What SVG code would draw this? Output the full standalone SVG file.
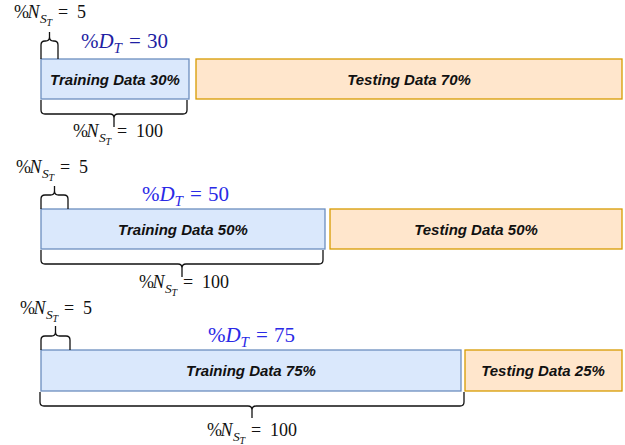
<svg xmlns="http://www.w3.org/2000/svg" width="625" height="445" viewBox="0 0 625 445">
<style>
.train{fill:#dae8fc;stroke:#6c8ebf;stroke-width:1.3}
.test{fill:#ffe6cc;stroke:#d79b00;stroke-width:1.3}
.lbl{font-family:"Liberation Sans",Arial,sans-serif;font-weight:bold;font-style:italic;font-size:15px;fill:#111;text-anchor:middle}
.brace{fill:none;stroke:#111;stroke-width:1.3}
.m{font-family:"Liberation Serif","Times New Roman",serif;fill:#111;font-size:18px}
.i{font-style:italic}
.s{font-size:13.5px;font-style:italic}
.ss{font-size:10px;font-style:italic}
.d{font-family:"Liberation Serif","Times New Roman",serif;font-size:21px}
.ds{font-size:15px;font-style:italic}
.d1{fill:#1f1fa3}
.d2{fill:#2a2ae6}
</style>

<g id="row1">
  <g id="train1"><rect class="train" x="41" y="59" width="148" height="40"/><text class="lbl" x="115" y="84.5">Training Data 30%</text></g>
  <g id="test1"><rect class="test" x="196" y="59" width="426" height="40"/><text class="lbl" x="409" y="84.5">Testing Data 70%</text></g>
  <g id="ns1"><text class="m" y="18"><tspan x="14">%</tspan><tspan class="i" x="27.5">N</tspan><tspan class="s" x="40" y="22.5">S</tspan><tspan class="ss" x="46.5" y="26">T</tspan><tspan x="58" y="18">=</tspan><tspan x="77" y="18">5</tspan></text></g>
  <g id="dt1"><text class="d d1" y="48"><tspan x="81">%</tspan><tspan class="i" x="98.5">D</tspan><tspan class="ds" x="113.5" y="53">T</tspan><tspan x="129" y="48">=</tspan><tspan x="147" y="48">30</tspan></text></g>
  <g id="nb1"><text class="m" y="137"><tspan x="73">%</tspan><tspan class="i" x="86.5">N</tspan><tspan class="s" x="99" y="141.5">S</tspan><tspan class="ss" x="105.5" y="145">T</tspan><tspan x="117" y="137">=</tspan><tspan x="136" y="137">100</tspan></text></g>
</g>

<g id="row2">
  <g id="train2"><rect class="train" x="41" y="209" width="284" height="40"/><text class="lbl" x="183" y="234.5">Training Data 50%</text></g>
  <g id="test2"><rect class="test" x="330" y="209" width="292" height="40"/><text class="lbl" x="476" y="234.5">Testing Data 50%</text></g>
  <g id="ns2"><text class="m" y="173"><tspan x="16">%</tspan><tspan class="i" x="29.5">N</tspan><tspan class="s" x="42" y="177.5">S</tspan><tspan class="ss" x="48.5" y="181">T</tspan><tspan x="60" y="173">=</tspan><tspan x="79" y="173">5</tspan></text></g>
  <g id="dt2"><text class="d d2" y="201"><tspan x="142">%</tspan><tspan class="i" x="159.5">D</tspan><tspan class="ds" x="174.5" y="206">T</tspan><tspan x="190" y="201">=</tspan><tspan x="208" y="201">50</tspan></text></g>
  <g id="nb2"><text class="m" y="288"><tspan x="139">%</tspan><tspan class="i" x="152.5">N</tspan><tspan class="s" x="165" y="292.5">S</tspan><tspan class="ss" x="171.5" y="296">T</tspan><tspan x="183" y="288">=</tspan><tspan x="202" y="288">100</tspan></text></g>
</g>

<g id="row3">
  <g id="train3"><rect class="train" x="41" y="350" width="420" height="41"/><text class="lbl" x="251" y="375.5">Training Data 75%</text></g>
  <g id="test3"><rect class="test" x="465" y="350" width="157" height="41"/><text class="lbl" x="543" y="375.5">Testing Data 25%</text></g>
  <g id="ns3"><text class="m" y="314"><tspan x="20">%</tspan><tspan class="i" x="33.5">N</tspan><tspan class="s" x="46" y="318.5">S</tspan><tspan class="ss" x="52.5" y="322">T</tspan><tspan x="64" y="314">=</tspan><tspan x="83" y="314">5</tspan></text></g>
  <g id="dt3"><text class="d d2" y="342"><tspan x="208">%</tspan><tspan class="i" x="225.5">D</tspan><tspan class="ds" x="240.5" y="347">T</tspan><tspan x="256" y="342">=</tspan><tspan x="274" y="342">75</tspan></text></g>
  <g id="nb3"><text class="m" y="436"><tspan x="207">%</tspan><tspan class="i" x="220.5">N</tspan><tspan class="s" x="233" y="440.5">S</tspan><tspan class="ss" x="239.5" y="444">T</tspan><tspan x="251" y="436">=</tspan><tspan x="270" y="436">100</tspan></text></g>
</g>

<g id="connectors">
  <path class="brace" d="M41,59 V45 Q41,41 45,41 H45.5 Q49.5,41 49.5,37 V32 M49.5,37 Q49.5,41 53.5,41 H54 Q58,41 58,45 V59"/>
  <path class="brace" d="M41,100 V110 Q41,114 45,114 H110 Q114,114 114,118 V127 M114,118 Q114,114 118,114 H183 Q187,114 187,110 V100"/>
  <path class="brace" d="M41,209 V199 Q41,195 45,195 H50.5 Q54.5,195 54.5,191 V186 M54.5,191 Q54.5,195 58.5,195 H64 Q68,195 68,199 V209"/>
  <path class="brace" d="M41,250 V260 Q41,264 45,264 H178 Q182,264 182,268 V277 M182,268 Q182,264 186,264 H319 Q323,264 323,260 V250"/>
  <path class="brace" d="M41,350 V340 Q41,336 45,336 H51.5 Q55.5,336 55.5,332 V326 M55.5,332 Q55.5,336 59.5,336 H66 Q70,336 70,340 V350"/>
  <path class="brace" d="M40,392 V402 Q40,406 44,406 H248 Q252,406 252,410 V418 M252,410 Q252,406 256,406 H460 Q464,406 464,402 V392"/>
</g>
</svg>
